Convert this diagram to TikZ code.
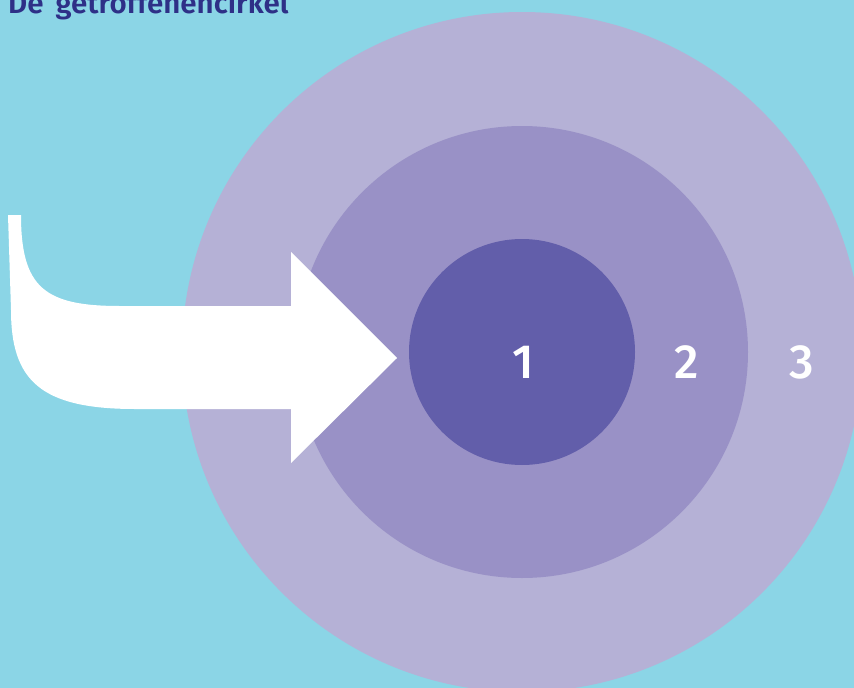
\documentclass[tikz,border=0pt]{standalone}
\usepackage{fontspec}
\setmainfont{Fira Sans}
\definecolor{bgblue}{HTML}{8BD5E6}
\definecolor{ringout}{HTML}{B5B1D6}
\definecolor{ringmid}{HTML}{9991C6}
\definecolor{ringin}{HTML}{625EAA}
\definecolor{titleblue}{HTML}{2E3087}
\tikzset{
  ringnum/.style={text=white, font=\fontsize{48}{48}\selectfont\fontspec{Fira Sans Medium}, anchor=center, inner sep=0pt},
}
\begin{document}
\begin{tikzpicture}[x=1pt, y=-1pt]
  % canvas
  \fill[bgblue] (0,0) rectangle (854,688);
  \useasboundingbox (0,0) rectangle (854,688);
  \begin{scope}
    \clip (0,0) rectangle (854,688);
    % concentric rings
    \fill[ringout] (522,352) circle[radius=340];
    \fill[ringmid] (522,352) circle[radius=226];
    \fill[ringin]  (522,352) circle[radius=113];
  \end{scope}
  % title, partly above the top edge
  \node[anchor=base west, inner sep=0pt, text=titleblue,
        font=\fontsize{29.5}{29.5}\selectfont\fontspec{Fira Sans SemiBold}] (title) at (8,13) {De\, getroffenencirkel};
  % bent arrow pointing into the centre
  \fill[white] (8,215) -- (21,215)
    .. controls (21,288) and (45,306) .. (120,306)
    -- (291,306) -- (291,252) -- (397,358) -- (291,463) -- (291,409)
    -- (135,409)
    .. controls (40,409) and (11,380) .. (11,310)
    -- cycle;
  % ring numbers
  \node[ringnum] (n1) at (523,362) {1};
  \node[ringnum] (n2) at (687,362) {2};
  \node[ringnum] (n3) at (802,362) {3};
\end{tikzpicture}
\end{document}
